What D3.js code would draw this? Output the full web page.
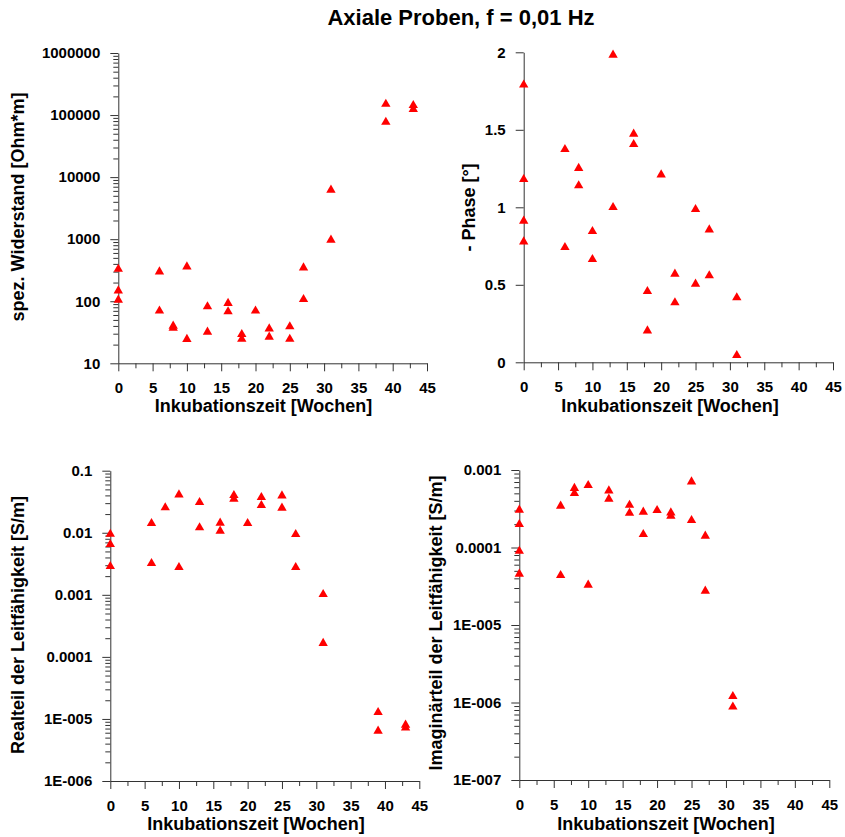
<!DOCTYPE html>
<html>
<head>
<meta charset="utf-8">
<script src="https://cdn.jsdelivr.net/npm/d3@7"></script>
<style>
  html, body { margin: 0; padding: 0; background: #fff; }
  svg { display: block; font-family: Arial, "Liberation Sans", sans-serif; }
</style>
</head>
<body>
<svg id="chart" width="845" height="837"></svg>
<script>
// ---------- data ----------
const chartTitle = "Axiale Proben, f = 0,01 Hz";
const xTitle = "Inkubationszeit [Wochen]";
const xTicks = [0, 5, 10, 15, 20, 25, 30, 35, 40, 45];
const xTickLabels = ["0", "5", "10", "15", "20", "25", "30", "35", "40", "45"];

// spez. Widerstand
const resistWeeks  = [0, 0, 0, 6, 6, 8, 8, 10, 10, 13, 13, 16, 16, 18, 18, 20, 22, 22, 25, 25, 27, 27, 31, 31, 39, 39, 43, 43];
const resistValues = [330, 148, 105, 299, 70, 40, 37, 360, 24.4, 82, 32, 93, 68, 29.3, 24.6, 70, 36, 26.5, 39, 24.6, 347, 107, 6200, 970, 150000, 77000, 143000, 124000];
const resistTicks = [10, 100, 1000, 10000, 100000, 1000000];
const resistTickLabels = ["10", "100", "1000", "10000", "100000", "1000000"];

// - Phase
const phaseWeeks  = [0, 0, 0, 0, 6, 6, 8, 8, 10, 10, 13, 13, 16, 16, 18, 18, 20, 22, 22, 25, 25, 27, 27, 31, 31];
const phaseValues = [1.79, 1.18, 0.912, 0.778, 1.374, 0.742, 1.252, 1.14, 0.845, 0.664, 1.983, 1.0, 1.473, 1.406, 0.458, 0.204, 1.21, 0.57, 0.385, 0.987, 0.505, 0.855, 0.559, 0.417, 0.045];
const phaseTicks = [0, 0.5, 1, 1.5, 2];
const phaseTickLabels = ["0", "0.5", "1", "1.5", "2"];

// Realteil der Leitfähigkeit
const realWeeks  = [0, 0, 0, 6, 6, 8, 10, 10, 13, 13, 16, 16, 18, 18, 20, 22, 22, 25, 25, 27, 27, 31, 31, 39, 39, 43, 43];
const realValues = [0.0095, 0.00652, 0.00288, 0.0142, 0.00322, 0.0254, 0.041, 0.00277, 0.0309, 0.0121, 0.01436, 0.01067, 0.0401, 0.035, 0.0142, 0.0372, 0.0277, 0.0395, 0.0251, 0.00944, 0.00277, 0.00102, 0.000166, 1.28e-5, 6.4e-6, 7.98e-6, 7.2e-6];
const realTicks = [1e-6, 1e-5, 1e-4, 1e-3, 1e-2, 1e-1];
const realTickLabels = ["1E-006", "1E-005", "0.0001", "0.001", "0.01", "0.1"];

// Imaginärteil der Leitfähigkeit
const imagWeeks  = [0, 0, 0, 0, 6, 6, 8, 8, 10, 10, 13, 13, 16, 16, 18, 18, 20, 22, 22, 25, 25, 27, 27, 31, 31];
const imagValues = [0.000305, 0.000199, 9.0e-5, 4.55e-5, 0.000343, 4.37e-5, 0.000581, 0.0005, 0.000634, 3.28e-5, 0.000541, 0.000423, 0.000353, 0.000278, 0.000287, 0.000148, 0.000302, 0.000281, 0.000255, 0.000706, 0.000224, 0.000141, 2.75e-5, 1.2e-6, 8.8e-7];
const imagTicks = [1e-7, 1e-6, 1e-5, 1e-4, 1e-3];
const imagTickLabels = ["1E-007", "1E-006", "1E-005", "0.0001", "0.001"];

// ---------- layout ----------
const panels = [
  { weeks: resistWeeks, values: resistValues, ticks: resistTicks, labels: resistTickLabels, log: true,
    yTitle: "spez. Widerstand [Ohm*m]", x0: 118.3, x1: 427, y0: 363.3, y1: 53, yTitleX: 18, yTitleY: 207, xTitleX: 263.5, xTitleY: 412 },
  { weeks: phaseWeeks, values: phaseValues, ticks: phaseTicks, labels: phaseTickLabels, log: false,
    yTitle: "- Phase [°]", x0: 523.7, x1: 833, y0: 362.3, y1: 52.3, yTitleX: 468.5, yTitleY: 207.5, xTitleX: 670, xTitleY: 412 },
  { weeks: realWeeks, values: realValues, ticks: realTicks, labels: realTickLabels, log: true,
    yTitle: "Realteil der Leitfähigkeit [S/m]", x0: 110.3, x1: 419.3, y0: 781, y1: 470.7, yTitleX: 17.5, yTitleY: 625, xTitleX: 256, xTitleY: 830 },
  { weeks: imagWeeks, values: imagValues, ticks: imagTicks, labels: imagTickLabels, log: true,
    yTitle: "Imaginärteil der Leitfähigkeit [S/m]", x0: 519.3, x1: 829.3, y0: 780, y1: 470, yTitleX: 436, yTitleY: 623, xTitleX: 666, xTitleY: 830 }
];

const svg = d3.select("#chart");
const axisColor = "#333";

svg.append("text")
  .attr("x", 461).attr("y", 25)
  .attr("text-anchor", "middle")
  .attr("font-size", 22).attr("font-weight", "bold")
  .attr("fill", "#000")
  .text(chartTitle);

const tri = d3.symbol().type(d3.symbolTriangle).size(38);

function styleAxis(g) {
  g.selectAll("path.domain").attr("stroke", axisColor).attr("stroke-width", 1);
  g.selectAll(".tick line").attr("stroke", axisColor).attr("stroke-width", 1);
  g.selectAll(".tick text").attr("fill", "#000").attr("font-size", 15).attr("font-weight", "bold")
    .attr("font-family", "Arial, 'Liberation Sans', sans-serif");
}

panels.forEach(p => {
  const x = d3.scaleLinear().domain([0, 45]).range([p.x0, p.x1]);
  const yDomain = [p.ticks[0], p.ticks[p.ticks.length - 1]];
  const y = (p.log ? d3.scaleLog() : d3.scaleLinear()).domain(yDomain).range([p.y0, p.y1]);

  // x minor ticks
  const xMinor = xTicks.slice(0, -1).map(d => d + 2.5);
  const gxm = svg.append("g").attr("transform", `translate(0,${p.y0})`)
    .call(d3.axisBottom(x).tickValues(xMinor).tickSize(5).tickSizeOuter(0).tickFormat(""));
  gxm.select("path.domain").remove();
  styleAxis(gxm);

  // x major
  const gx = svg.append("g").attr("transform", `translate(0,${p.y0})`)
    .call(d3.axisBottom(x).tickValues(xTicks).tickSize(8).tickSizeOuter(0).tickPadding(11.5)
      .tickFormat((d, i) => xTickLabels[i]));
  styleAxis(gx);

  // y minor ticks (log)
  if (p.log) {
    const minor = [];
    for (let i = 0; i < p.ticks.length - 1; i++) {
      for (let m = 2; m <= 9; m++) minor.push(p.ticks[i] * m);
    }
    const gym = svg.append("g").attr("transform", `translate(${p.x0},0)`)
      .call(d3.axisLeft(y).tickValues(minor).tickSize(5).tickSizeOuter(0).tickFormat(""));
    gym.select("path.domain").remove();
    styleAxis(gym);
  }

  // y major
  const gy = svg.append("g").attr("transform", `translate(${p.x0},0)`)
    .call(d3.axisLeft(y).tickValues(p.ticks).tickSize(8).tickSizeOuter(0).tickPadding(10)
      .tickFormat((d, i) => p.labels[i]));
  styleAxis(gy);

  // titles
  svg.append("text")
    .attr("x", p.xTitleX).attr("y", p.xTitleY)
    .attr("text-anchor", "middle")
    .attr("font-size", 18).attr("font-weight", "bold").attr("fill", "#000")
    .text(xTitle);
  svg.append("text")
    .attr("transform", `translate(${p.yTitleX},${p.yTitleY}) rotate(-90)`)
    .attr("text-anchor", "middle")
    .attr("dominant-baseline", "central")
    .attr("font-size", 18).attr("font-weight", "bold").attr("fill", "#000")
    .text(p.yTitle);

  // markers
  svg.append("g").selectAll("path")
    .data(p.weeks.map((w, i) => [w, p.values[i]]))
    .join("path")
    .attr("d", tri)
    .attr("transform", d => `translate(${x(d[0])},${y(d[1])})`)
    .attr("fill", "#ff0000");
});
</script>
</body>
</html>
